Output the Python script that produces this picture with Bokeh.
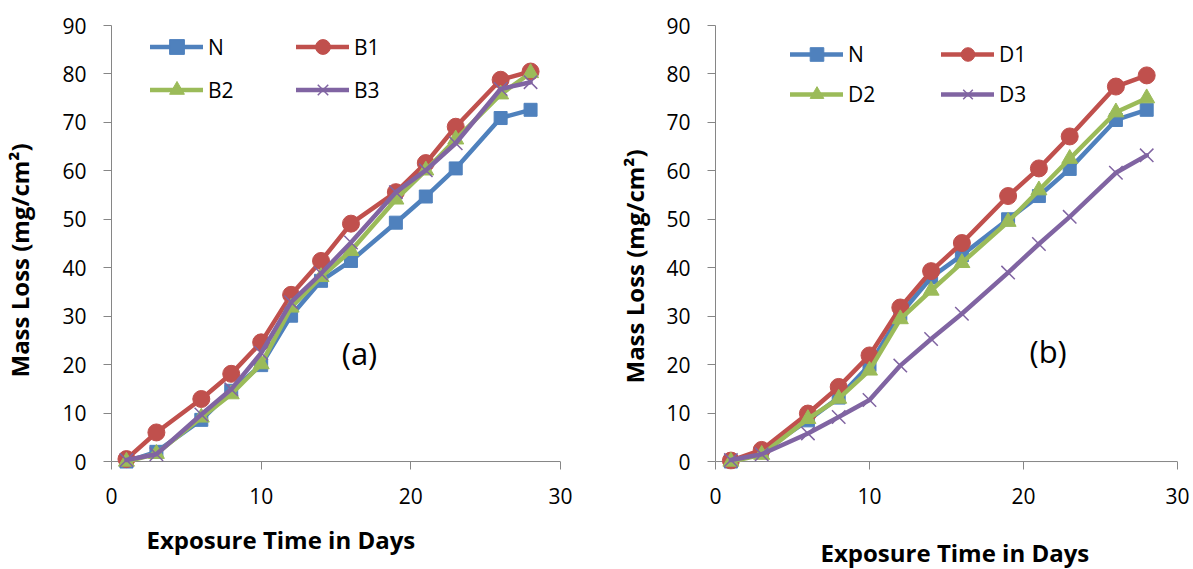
from math import pi
from bokeh.plotting import figure
from bokeh.layouts import row
from bokeh.models import Range1d, FixedTicker, Span, Label, Legend, LegendItem
from bokeh.embed import file_html
from bokeh.resources import INLINE

# ---------------- data ----------------
days = [1, 3, 6, 8, 10, 12, 14, 16, 19, 21, 23, 26, 28]

a_N = [0, 2.0, 8.6, 14.6, 19.9, 30.1, 37.3, 41.4, 49.3, 54.7, 60.5, 70.9, 72.6]
a_B1 = [0.5, 6.0, 12.9, 18.1, 24.6, 34.4, 41.4, 49.1, 55.6, 61.6, 69.1, 78.8, 80.5]
a_B2 = [0, 1.6, 9.1, 13.9, 20.1, 31.8, 38.1, 43.5, 54.1, 60.1, 66.5, 75.8, 80.2]
a_B3 = [0.3, 1.5, 9.7, 14.9, 22.4, 32.9, 38.8, 45.2, 55.6, 60.1, 65.7, 76.9, 78.3]

b_N = [0, 2.0, 8.5, 13.2, 19.9, 30.4, 38.0, 42.6, 50.0, 54.8, 60.4, 70.5, 72.6]
b_D1 = [0.2, 2.4, 9.9, 15.4, 21.9, 31.8, 39.3, 45.1, 54.8, 60.5, 67.1, 77.4, 79.7]
b_D2 = [0, 1.4, 8.8, 13.0, 18.8, 29.4, 35.3, 41.0, 49.5, 56.0, 62.5, 72.1, 75.0]
b_D3 = [0.3, 1.5, 5.8, 9.2, 12.7, 19.8, 25.3, 30.5, 39.0, 44.9, 50.5, 59.6, 63.2]

x_ticks = [0, 10, 20, 30]
y_ticks = [0, 10, 20, 30, 40, 50, 60, 70, 80, 90]

panel_a_names = ["N", "B1", "B2", "B3"]
panel_b_names = ["N", "D1", "D2", "D3"]
y_title = "Mass Loss (mg/cm\u00b2)"
x_title = "Exposure Time in Days"

# ---------------- styling ----------------
COLORS = ["#4F81BD", "#C0504D", "#9BBB59", "#8064A2"]
MARKERS = ["square", "circle", "triangle", "x"]
MSIZES = [13, 17, 16, 19]
AXIS_GRAY = "#868686"
FONT = "Open Sans"


def make_panel(series, names, width, bl, br, bt, bb, y_start,
               leg_loc, leg_gh, leg_lw, tag, tag_xy, ytitle_xy, xtitle_xy):
    p = figure(width=width, height=569, output_backend="svg", toolbar_location=None,
               x_range=Range1d(0, 30), y_range=Range1d(y_start, 90),
               min_border_left=bl, min_border_right=br,
               min_border_top=bt, min_border_bottom=bb)
    p.outline_line_color = None
    p.grid.visible = False
    p.background_fill_color = "white"
    p.border_fill_color = "white"

    # y axis
    p.yaxis.ticker = FixedTicker(ticks=y_ticks)
    p.yaxis.bounds = (0, 90)
    p.yaxis.axis_line_color = AXIS_GRAY
    p.yaxis.major_tick_line_color = AXIS_GRAY
    p.yaxis.minor_tick_line_color = None
    p.yaxis.major_tick_in = 0
    p.yaxis.major_tick_out = 8
    p.yaxis.major_label_standoff = 17

    # x axis (line drawn at y=0 by a span)
    p.xaxis.ticker = FixedTicker(ticks=x_ticks)
    p.xaxis.axis_line_color = None
    p.xaxis.major_tick_line_color = AXIS_GRAY
    p.xaxis.minor_tick_line_color = None
    p.xaxis.major_tick_in = 8
    p.xaxis.major_tick_out = 0
    p.xaxis.major_label_standoff = 18

    for ax in (p.xaxis, p.yaxis):
        ax.major_label_text_font = FONT
        ax.major_label_text_font_size = "21px"
        ax.major_label_text_color = "black"

    p.add_layout(Span(location=0, dimension="width", line_color=AXIS_GRAY,
                      line_width=1, level="underlay"))

    items = []
    for vals, name, col, mk, ms in zip(series, names, COLORS, MARKERS, MSIZES):
        lr = p.line(days, vals, line_color=col, line_width=4.5,
                    line_cap="round", line_join="round")
        if mk == "x":
            sr = p.scatter(days, vals, marker=mk, size=ms, line_color=col,
                           line_width=1.5)
        else:
            sr = p.scatter(days, vals, marker=mk, size=ms, fill_color=col,
                           line_color=col, line_width=1)
        items.append(LegendItem(label=name, renderers=[lr, sr]))

    leg = Legend(items=items, location=leg_loc, orientation="horizontal", ncols=2,
                 glyph_width=53, glyph_height=leg_gh, label_width=leg_lw,
                 label_standoff=5, spacing=6, padding=0, margin=0,
                 label_text_font=FONT, label_text_font_size="21px",
                 label_text_color="black",
                 background_fill_alpha=0, border_line_color=None)
    p.add_layout(leg)

    p.add_layout(Label(x=tag_xy[0], y=tag_xy[1], text=tag, text_font=FONT,
                       text_font_size="31px", text_align="center",
                       text_baseline="middle", text_color="black"))

    p.add_layout(Label(x=ytitle_xy[0], y=ytitle_xy[1], x_units="canvas", y_units="canvas",
                       text=y_title, angle=pi / 2, text_font=FONT,
                       text_font_style="bold", text_font_size="24px",
                       text_align="left", text_baseline="alphabetic",
                       text_color="black"), "left")
    p.add_layout(Label(x=xtitle_xy[0], y=xtitle_xy[1], x_units="canvas", y_units="canvas",
                       text=x_title, text_font=FONT,
                       text_font_style="bold", text_font_size="24px",
                       text_align="left", text_baseline="alphabetic",
                       text_color="black"), "below")
    return p


pa = make_panel([a_N, a_B1, a_B2, a_B3], panel_a_names, 597, 111, 37, 24, 100,
                -8 / 4.856, (39, 361), 37, 82, "(a)", (16.57, 22.4),
                (19, 377), (146, 539))
pb = make_panel([b_N, b_D1, b_D2, b_D3], panel_b_names, 596, 118, 16, 25, 98,
                -8 / 4.867, (75, 358), 34, 87, "(b)", (21.6, 22.9),
                (37, 383), (223, 552))

layout = row(pa, pb, spacing=0)
open("out.html", "w").write(file_html(layout, INLINE))
